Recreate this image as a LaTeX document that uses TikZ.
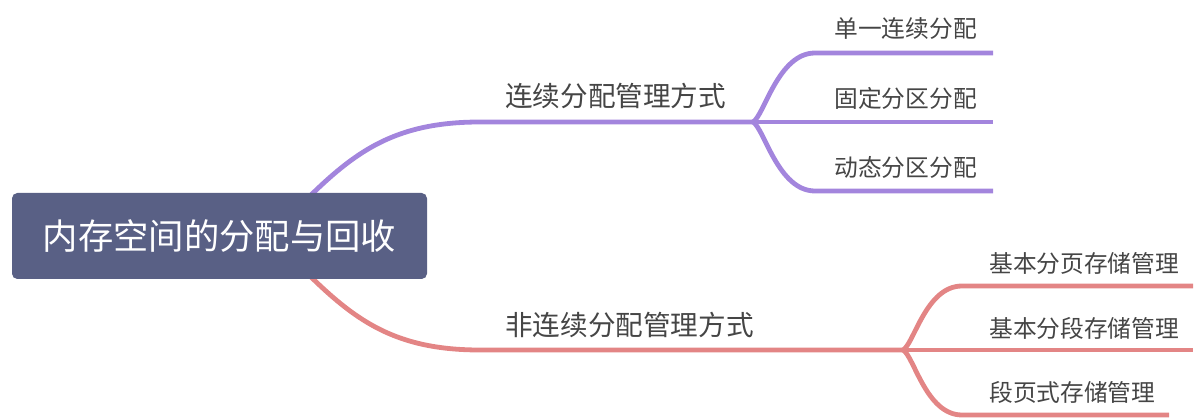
\documentclass[tikz,border=0pt]{standalone}
\usepackage{fontspec}
\setmainfont{Noto Sans CJK SC}
\definecolor{rootfill}{HTML}{596085}
\definecolor{purp}{HTML}{A385DD}
\definecolor{redl}{HTML}{E38585}
\definecolor{txt}{HTML}{454545}
\begin{document}
\begin{tikzpicture}[x=0.75pt,y=-0.75pt,
  rootbox/.style={fill=rootfill, rounded corners=4pt, minimum width=311.25pt, minimum height=64.5pt, inner sep=0pt, text=white, font=\fontsize{26.5}{30}\selectfont},
  mainlbl/.style={inner sep=0pt, text=txt, font=\fontsize{20.7}{24}\selectfont},
  sublbl/.style={inner sep=0pt, text=txt, font=\fontsize{17.8}{21}\selectfont},
  pline/.style={draw=purp, line width=3.6pt},
  rline/.style={draw=redl, line width=3.6pt}]
\useasboundingbox (0,0) rectangle (1204,420);
% coordinates
\coordinate (ps) at (295,211);
\coordinate (pa) at (480,122);
\coordinate (pf) at (753,122);
\coordinate (p1s) at (815,53);
\coordinate (p1e) at (993,53);
\coordinate (p2e) at (993,122);
\coordinate (p3s) at (815,191);
\coordinate (p3e) at (993,191);
\coordinate (rs) at (295,261);
\coordinate (ra) at (480,350);
\coordinate (rf) at (903,350);
\coordinate (r1s) at (962,286);
\coordinate (r1e) at (1193,286);
\coordinate (r2e) at (1193,350);
\coordinate (r3s) at (962,415);
\coordinate (r3e) at (1169,415);
% purple branch
\draw[pline] (ps) .. controls (350,155) and (390,122) .. (pa) -- (pf);
\draw[pline] (pf) .. controls (764,116) and (778,53) .. (p1s) -- (p1e);
\draw[pline] (pf) -- (p2e);
\draw[pline] (pf) .. controls (764,128) and (778,191) .. (p3s) -- (p3e);
% red branch
\draw[rline] (rs) .. controls (350,317) and (390,350) .. (ra) -- (rf);
\draw[rline] (rf) .. controls (914,344) and (926,286) .. (r1s) -- (r1e);
\draw[rline] (rf) -- (r2e);
\draw[rline] (rf) .. controls (914,356) and (926,415) .. (r3s) -- (r3e);
% root
\node[rootbox] (root) at (219.5,236) {内存空间的分配与回收};
% labels
\node[mainlbl, anchor=west] (m1) at (505,96) {连续分配管理方式};
\node[mainlbl, anchor=west] (m2) at (505,325) {非连续分配管理方式};
\node[sublbl, anchor=east] (c1) at (977,29) {单一连续分配};
\node[sublbl, anchor=east] (c2) at (977,98) {固定分区分配};
\node[sublbl, anchor=east] (c3) at (977,167) {动态分区分配};
\node[sublbl, anchor=west] (d1) at (989,263) {基本分页存储管理};
\node[sublbl, anchor=west] (d2) at (989,328) {基本分段存储管理};
\node[sublbl, anchor=west] (d3) at (989,392) {段页式存储管理};
\end{tikzpicture}
\end{document}
